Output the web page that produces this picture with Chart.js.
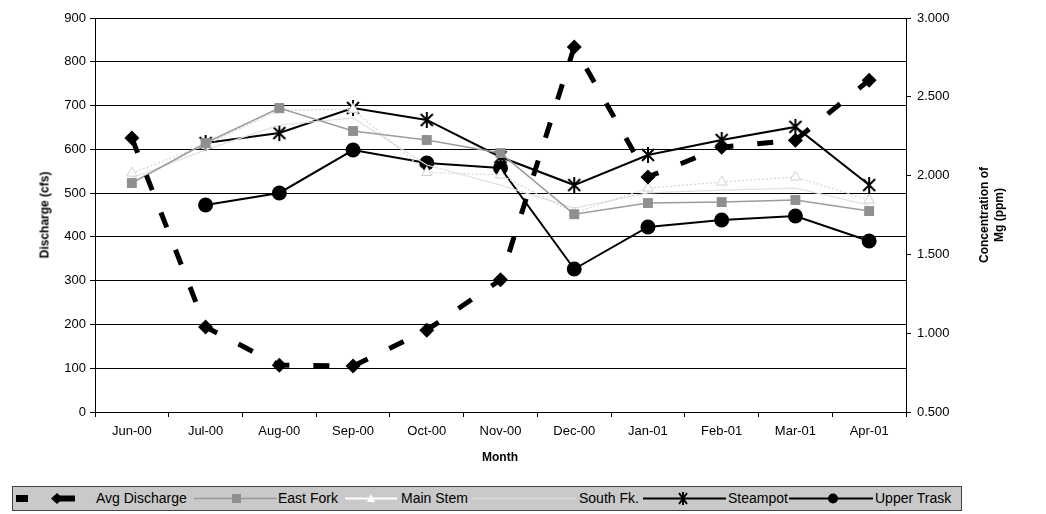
<!DOCTYPE html>
<html>
<head>
<meta charset="utf-8">
<script src="https://cdn.jsdelivr.net/npm/chart.js@4.4.1/dist/chart.umd.min.js"></script>
<style>
  html, body { margin: 0; padding: 0; background: #fff; }
  #wrap { position: relative; width: 1046px; height: 514px; font-family: "Liberation Sans", Arial, sans-serif; }
  #wrap canvas { position: absolute; left: 0; top: 0; }
  .title { position: absolute; font-weight: bold; font-size: 12px; color: #000; white-space: nowrap; text-align: center; line-height: 15px; }
  #legend { position: absolute; left: 12px; top: 486px; width: 948px; height: 23px; background: #c9c9c9; border: 1px solid #444; }
  #legend .it { position: absolute; top: 0; height: 23px; line-height: 23px; font-size: 14px; color: #000; white-space: nowrap; }
  #legend svg { position: absolute; top: 0; }
</style>
</head>
<body>
<div id="wrap">
  <canvas id="c" width="1046" height="514"></canvas>
  <div class="title" style="left:45px; top:215px; transform: translate(-50%,-50%) rotate(-90deg);">Discharge (cfs)</div>
  <div class="title" style="left:992px; top:215px; transform: translate(-50%,-50%) rotate(-90deg);">Concentration of<br>Mg (ppm)</div>
  <div class="title" style="left:500px; top:457px; transform: translate(-50%,-50%);">Month</div>
  <div id="legend">
    <svg style="left:0" width="948" height="23">
      <rect x="3" y="8" width="12" height="7" fill="#000"/>
      <line x1="41" y1="11.5" x2="62" y2="11.5" stroke="#000" stroke-width="6"/>
      <polygon points="44,6 50,11.5 44,17 38,11.5" fill="#000"/>
      <line x1="181" y1="11.5" x2="264" y2="11.5" stroke="#9a9a9a" stroke-width="1.5"/>
      <rect x="219" y="7" width="9" height="9" fill="#8f8f8f"/>
      <line x1="332" y1="11.5" x2="384" y2="11.5" stroke="#ffffff" stroke-width="2"/>
      <polygon points="358,7 362,15 354,15" fill="#ffffff"/>
      <line x1="460" y1="11.5" x2="562" y2="11.5" stroke="#dcdcdc" stroke-width="1.5"/>
      <line x1="630" y1="11.5" x2="713" y2="11.5" stroke="#000" stroke-width="2"/>
      <path d="M666 6 L674 17 M674 6 L666 17 M670 5 L670 18" stroke="#000" stroke-width="2"/>
      <line x1="776" y1="11.5" x2="860" y2="11.5" stroke="#000" stroke-width="2"/>
      <circle cx="820" cy="11.5" r="5" fill="#000"/>
    </svg>
    <div class="it" style="left:83px">Avg Discharge</div>
    <div class="it" style="left:265px">East Fork</div>
    <div class="it" style="left:388px">Main Stem</div>
    <div class="it" style="left:566px">South Fk.</div>
    <div class="it" style="left:715px">Steampot</div>
    <div class="it" style="left:862px">Upper Trask</div>
  </div>
</div>
<script>
const months = ['Jun-00','Jul-00','Aug-00','Sep-00','Oct-00','Nov-00','Dec-00','Jan-01','Feb-01','Mar-01','Apr-01'];
const avgDischarge = [626, 194, 107, 105, 187, 302, 834, 537, 605, 621, 758];
const eastFork   = [1.953, 2.207, 2.429, 2.283, 2.226, 2.143, 1.755, 1.826, 1.832, 1.845, 1.775];
const mainStem   = [2.016, 2.194, 2.416, 2.420, 2.020, 2.004, 1.763, 1.921, 1.959, 1.991, 1.845];
const southFk    = [1.985, 2.163, 2.320, 2.366, 2.067, 1.940, 1.794, 1.890, 1.908, 1.920, 1.813];
const steampot   = [null, 2.207, 2.270, 2.429, 2.353, 2.118, 1.940, 2.131, 2.226, 2.309, 1.940];
const upperTrask = [null, 1.813, 1.890, 2.162, 2.080, 2.048, 1.407, 1.674, 1.718, 1.744, 1.585];
const dischargeTicks = [0, 100, 200, 300, 400, 500, 600, 700, 800, 900];
const mgTicks = [0.5, 1.0, 1.5, 2.0, 2.5, 3.0];

const FONT = '"Liberation Sans", Arial, sans-serif';

// asterisk marker (X plus vertical bar) like the original
const ast = document.createElement('canvas');
ast.width = 18; ast.height = 18;
(function () {
  const g = ast.getContext('2d');
  g.strokeStyle = '#000'; g.lineWidth = 2; g.lineCap = 'butt';
  g.beginPath();
  g.moveTo(3, 3); g.lineTo(15, 15);
  g.moveTo(15, 3); g.lineTo(3, 15);
  g.moveTo(9, 1); g.lineTo(9, 17);
  g.stroke();
})();

new Chart(document.getElementById('c'), {
  type: 'line',
  data: {
    labels: months,
    datasets: [
      { label: 'Avg Discharge', data: avgDischarge, yAxisID: 'y',
        borderColor: '#000', backgroundColor: '#000', borderWidth: 5, borderDash: [16, 24],
        pointStyle: 'rectRot', pointRadius: 7.5, pointBorderWidth: 0, tension: 0 },
      { label: 'East Fork', data: eastFork, yAxisID: 'y1',
        borderColor: '#9c9c9c', backgroundColor: '#8f8f8f', borderWidth: 1.5,
        pointStyle: 'rect', pointRadius: 7, pointBorderWidth: 0, tension: 0 },
      { label: 'Main Stem', data: mainStem, yAxisID: 'y1',
        borderColor: '#d4d4d4', backgroundColor: '#ffffff', borderWidth: 1.2, borderDash: [2, 2],
        pointStyle: 'triangle', pointRadius: 6, pointBorderColor: '#d0d0d0', pointBorderWidth: 1, tension: 0 },
      { label: 'South Fk.', data: southFk, yAxisID: 'y1',
        borderColor: '#e2e2e2', backgroundColor: '#e2e2e2', borderWidth: 1.2,
        pointRadius: 0, tension: 0 },
      { label: 'Steampot', data: steampot, yAxisID: 'y1',
        borderColor: '#000', backgroundColor: '#000', borderWidth: 2,
        pointStyle: ast, pointRadius: 8, tension: 0 },
      { label: 'Upper Trask', data: upperTrask, yAxisID: 'y1',
        borderColor: '#000', backgroundColor: '#000', borderWidth: 2,
        pointStyle: 'circle', pointRadius: 7.5, pointBorderWidth: 0, tension: 0 }
    ]
  },
  options: {
    responsive: false,
    animation: false,
    events: [],
    layout: { padding: { top: 18, left: 0, right: 0, bottom: 0 } },
    plugins: { legend: { display: false }, tooltip: { enabled: false } },
    scales: {
      x: {
        type: 'category', offset: true,
        grid: { display: true, drawOnChartArea: false, drawTicks: true, tickLength: 5, color: '#000', offset: true },
        border: { display: true, color: '#000', width: 1 },
        ticks: { color: '#000', font: { family: FONT, size: 13 }, padding: 7, maxRotation: 0, autoSkip: false },
        afterFit: s => { s.height = 102; }
      },
      y: {
        position: 'left', min: dischargeTicks[0], max: dischargeTicks[dischargeTicks.length - 1],
        afterBuildTicks: s => { s.ticks = dischargeTicks.map(v => ({ value: v })); },
        grid: { color: '#000', lineWidth: 1, tickLength: 5, drawTicks: true },
        border: { display: true, color: '#000', width: 1 },
        ticks: { color: '#000', font: { family: FONT, size: 13 }, padding: 4, callback: v => String(v) },
        afterFit: s => { s.width = 95; }
      },
      y1: {
        position: 'right', min: mgTicks[0], max: mgTicks[mgTicks.length - 1],
        afterBuildTicks: s => { s.ticks = mgTicks.map(v => ({ value: v })); },
        grid: { drawOnChartArea: false, color: '#000', tickLength: 5, drawTicks: true },
        border: { display: true, color: '#000', width: 1 },
        ticks: { color: '#000', font: { family: FONT, size: 13 }, padding: 6, callback: v => Number(v).toFixed(3) },
        afterFit: s => { s.width = 140; }
      }
    }
  }
});
</script>
</body>
</html>
